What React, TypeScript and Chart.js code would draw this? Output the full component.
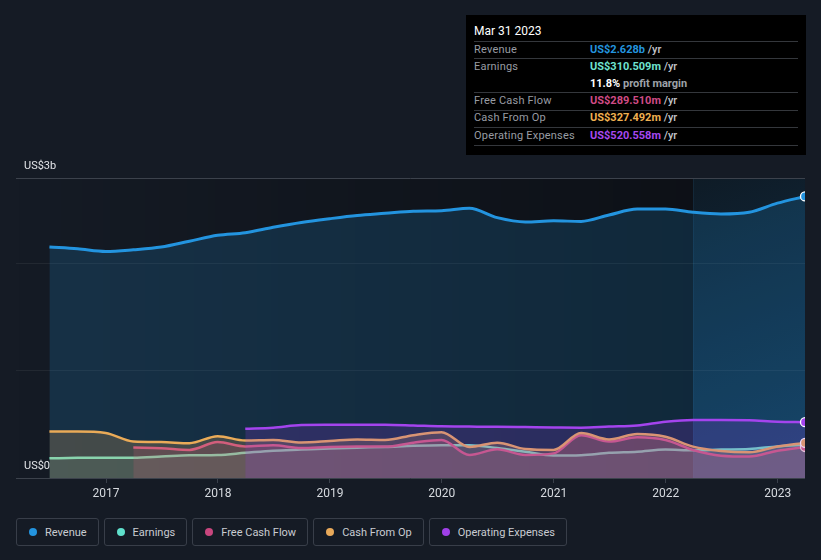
import React, { useEffect, useRef } from "react";
import { Chart, registerables } from "chart.js";
Chart.register(...registerables);

// ---------- data (US$ billions, trailing twelve months) ----------
const quarterEnds = [
  "2016-06-30", "2016-09-30", "2016-12-31", "2017-03-31",
  "2017-06-30", "2017-09-30", "2017-12-31", "2018-03-31",
  "2018-06-30", "2018-09-30", "2018-12-31", "2019-03-31",
  "2019-06-30", "2019-09-30", "2019-12-31", "2020-03-31",
  "2020-06-30", "2020-09-30", "2020-12-31", "2021-03-31",
  "2021-06-30", "2021-09-30", "2021-12-31", "2022-03-31",
  "2022-06-30", "2022-09-30", "2022-12-31", "2023-03-31",
];

const revenue = [
  2.156, 2.14, 2.115, 2.13, 2.155, 2.21, 2.265, 2.29, 2.34, 2.385, 2.42, 2.45, 2.47, 2.49,
  2.495, 2.517, 2.43, 2.39, 2.4, 2.395, 2.455, 2.51, 2.511, 2.48, 2.464, 2.48, 2.565, 2.628,
];
const earnings = [
  0.184, 0.188, 0.19, 0.19, 0.2, 0.212, 0.215, 0.235, 0.255, 0.265, 0.275, 0.283, 0.29, 0.3,
  0.305, 0.305, 0.28, 0.245, 0.21, 0.213, 0.235, 0.245, 0.265, 0.258, 0.265, 0.27, 0.295, 0.3105,
];
const freeCashFlow = [
  null, null, null, 0.284, 0.278, 0.262, 0.335, 0.295, 0.305, 0.28, 0.29, 0.293, 0.293, 0.33,
  0.355, 0.215, 0.268, 0.215, 0.23, 0.4, 0.34, 0.38, 0.355, 0.262, 0.208, 0.2, 0.255, 0.2895,
];
const cashFromOp = [
  0.433, 0.433, 0.42, 0.34, 0.335, 0.325, 0.39, 0.35, 0.355, 0.332, 0.345, 0.36, 0.355, 0.4,
  0.427, 0.29, 0.33, 0.27, 0.262, 0.42, 0.36, 0.41, 0.385, 0.293, 0.252, 0.24, 0.293, 0.3275,
];
const operatingExpenses = [
  null, null, null, null, null, null, null, 0.46, 0.47, 0.495, 0.497, 0.498, 0.497, 0.49,
  0.482, 0.48, 0.478, 0.475, 0.472, 0.47, 0.48, 0.49, 0.525, 0.542, 0.542, 0.538, 0.525, 0.5206,
];

const yearTicks = [2017, 2018, 2019, 2020, 2021, 2022, 2023];
const yGridValues = [0, 1, 2, 2.8];
const yTopLabel = "US$3b";
const yBottomLabel = "US$0";
const highlightFrom = "2022-03-31";
const xStart = 2016.196;

const legendItems = [
  { label: "Revenue", color: "#2394df" },
  { label: "Earnings", color: "#5fe0cc" },
  { label: "Free Cash Flow", color: "#c8467e" },
  { label: "Cash From Op", color: "#e8a95a" },
  { label: "Operating Expenses", color: "#a040e8" },
];

const tooltipTitle = "Mar 31 2023";
const tooltipRows = [
  { label: "Revenue", value: "US$2.628b", color: "#2394df", suffix: " /yr" },
  { label: "Earnings", value: "US$310.509m", color: "#6fe3d0", suffix: " /yr" },
  { label: "", value: "11.8%", color: "#ffffff", suffix: " profit margin" },
  { label: "Free Cash Flow", value: "US$289.510m", color: "#d04b86", suffix: " /yr" },
  { label: "Cash From Op", value: "US$327.492m", color: "#f0b050", suffix: " /yr" },
  { label: "Operating Expenses", value: "US$520.558m", color: "#a848f0", suffix: " /yr" },
];

// ---------- helpers ----------
function toYear(s: string): number {
  const d = new Date(s + "T00:00:00Z");
  const y = d.getUTCFullYear();
  const a = Date.UTC(y, 0, 1);
  const b = Date.UTC(y + 1, 0, 1);
  return y + (d.getTime() - a) / (b - a);
}
function pts(values: (number | null)[]) {
  const out: { x: number; y: number }[] = [];
  values.forEach((v, i) => {
    if (v !== null) out.push({ x: toYear(quarterEnds[i]), y: v });
  });
  return out;
}

const PAGE_BG = "#151b25";
const FONT = "Roboto, 'Noto Sans', sans-serif";

const bgPlugin = {
  id: "bgPlugin",
  beforeDraw(chart: any) {
    const { ctx, chartArea } = chart;
    const xs = chart.scales.x;
    const xb = xs.getPixelForValue(toYear(highlightFrom));
    const { left, right, top, bottom } = chartArea;
    ctx.save();
    const g1 = ctx.createLinearGradient(left, 0, xb, 0);
    g1.addColorStop(0, "rgba(0,0,0,0)");
    g1.addColorStop(1, "rgba(0,0,0,0.38)");
    ctx.fillStyle = g1;
    ctx.fillRect(left, top, xb - left, bottom - top);
    const g2 = ctx.createLinearGradient(xb, top, right, bottom);
    g2.addColorStop(0, "#0e1b26");
    g2.addColorStop(1, "#143552");
    ctx.fillStyle = g2;
    ctx.fillRect(xb, top, right - xb, bottom - top);
    ctx.strokeStyle = "rgba(40,80,120,0.22)";
    ctx.lineWidth = 1;
    ctx.beginPath();
    ctx.moveTo(Math.round(xb) + 0.5, top);
    ctx.lineTo(Math.round(xb) + 0.5, bottom);
    ctx.stroke();
    ctx.restore();
  },
};

function makeDataset(label: string, values: (number | null)[], line: string, fillCol: string, order: number, width = 2.5) {
  const data = pts(values);
  return {
    label,
    data,
    borderColor: line,
    backgroundColor: fillCol,
    fill: "origin",
    borderWidth: width,
    cubicInterpolationMode: "monotone" as const,
    pointRadius: (c: any) => (c.dataIndex === data.length - 1 ? 4.5 : 0),
    pointHoverRadius: 0,
    pointBackgroundColor: line,
    pointBorderColor: "#ffffff",
    pointBorderWidth: 1.3,
    order,
  };
}

export default function App() {
  const ref = useRef<HTMLCanvasElement | null>(null);

  useEffect(() => {
    document.body.style.margin = "0";
    document.body.style.background = PAGE_BG;
    if (!ref.current) return;
    Chart.defaults.font.family = FONT;
    const chart = new Chart(ref.current, {
      type: "line",
      data: {
        datasets: [
          makeDataset("Revenue", revenue, "#2394df", "rgba(35,148,223,0.18)", 5, 3),
          makeDataset("Earnings", earnings, "#6fe0c4", "rgba(90,200,180,0.14)", 4),
          makeDataset("Free Cash Flow", freeCashFlow, "#cc4a86", "rgba(200,70,126,0.2)", 3),
          makeDataset("Cash From Op", cashFromOp, "#eaab58", "rgba(232,169,90,0.22)", 2),
          makeDataset("Operating Expenses", operatingExpenses, "#a444ee", "rgba(150,60,230,0.2)", 1),
        ],
      },
      options: {
        responsive: false,
        animation: false,
        devicePixelRatio: 1,
        layout: { padding: { left: 16, right: 16, top: 178, bottom: 0 } },
        plugins: { legend: { display: false }, tooltip: { enabled: false } },
        events: [],
        scales: {
          x: {
            type: "linear",
            min: xStart,
            max: toYear(quarterEnds[quarterEnds.length - 1]),
            afterFit: (s: any) => {
              s.height = 32;
            },
            afterBuildTicks: (s: any) => {
              s.ticks = yearTicks.map((v) => ({ value: v }));
            },
            ticks: {
              color: "#d6dadf",
              font: { size: 12, family: FONT },
              padding: 4,
              maxRotation: 0,
              autoSkip: false,
              callback: (v: any) => String(v),
            },
            grid: {
              drawOnChartArea: false,
              drawTicks: true,
              tickLength: 5,
              color: "#3a404b",
            },
            border: { display: false },
          },
          y: {
            min: 0,
            max: 2.8,
            afterFit: (s: any) => {
              s.width = 0;
            },
            afterBuildTicks: (s: any) => {
              s.ticks = yGridValues.map((v) => ({ value: v }));
            },
            ticks: { display: false },
            grid: {
              drawTicks: false,
              color: (c: any) =>
                c.tick && (c.tick.value === 0 || c.tick.value === 2.8) ? "#3c424c" : "rgba(255,255,255,0.06)",
              lineWidth: 1,
            },
            border: { display: false },
          },
        },
      },
      plugins: [bgPlugin],
    } as any);
    return () => chart.destroy();
  }, []);

  return (
    <div
      style={{
        position: "fixed",
        left: 0,
        top: 0,
        width: 821,
        height: 560,
        background: PAGE_BG,
        fontFamily: FONT,
        overflow: "hidden",
      }}
    >
      <canvas ref={ref} width={821} height={510} style={{ position: "absolute", left: 0, top: 0, width: 821, height: 510 }} />

      <div style={{ position: "absolute", left: 24, top: 159, fontSize: 11, color: "#e2e4e8", lineHeight: "14px" }}>
        {yTopLabel}
      </div>
      <div style={{ position: "absolute", left: 24, top: 459, fontSize: 11, color: "#e2e4e8", lineHeight: "14px" }}>
        {yBottomLabel}
      </div>

      {/* info box */}
      <div
        style={{
          position: "absolute",
          left: 466,
          top: 15,
          width: 340,
          height: 140,
          background: "#000000",
          fontSize: 11,
        }}
      >
        <div style={{ position: "absolute", left: 8, top: 8, fontSize: 12, color: "#ffffff", lineHeight: "16px" }}>
          {tooltipTitle}
        </div>
        {[26, 43, 77, 95, 112, 130].map((y, i) => (
          <div key={"d" + i} style={{ position: "absolute", left: 8, top: y, width: 324, height: 1, background: "#34373c" }} />
        ))}
        {tooltipRows.map((r, i) => {
          const centers = [34.5, 51.5, 68.5, 85.5, 103, 120.5];
          const top = centers[i] - 7;
          return (
            <React.Fragment key={"r" + i}>
              {r.label && (
                <div style={{ position: "absolute", left: 8, top, lineHeight: "14px", color: "#989ca3", letterSpacing: 0.2 }}>
                  {r.label}
                </div>
              )}
              <div style={{ position: "absolute", left: 124, top, lineHeight: "14px", whiteSpace: "nowrap" }}>
                <span style={{ color: r.color, fontWeight: 700 }}>{r.value}</span>
                <span style={{ color: i === 2 ? "#9ea2a8" : "#c4c7cc", fontWeight: i === 2 ? 700 : 500 }}>{r.suffix}</span>
              </div>
            </React.Fragment>
          );
        })}
      </div>

      {/* legend */}
      <div style={{ position: "absolute", left: 16, top: 518, display: "flex", gap: 5 }}>
        {legendItems.map((it) => (
          <div
            key={it.label}
            style={{
              height: 26,
              border: "1px solid #383e49",
              borderRadius: 3,
              display: "flex",
              alignItems: "center",
              padding: "0 11px 0 12px",
              boxSizing: "content-box",
            }}
          >
            <span style={{ width: 8, height: 8, borderRadius: 4, background: it.color, display: "inline-block", marginRight: 8 }} />
            <span style={{ fontSize: 11, color: "#c9ccd2" }}>{it.label}</span>
          </div>
        ))}
      </div>
    </div>
  );
}
